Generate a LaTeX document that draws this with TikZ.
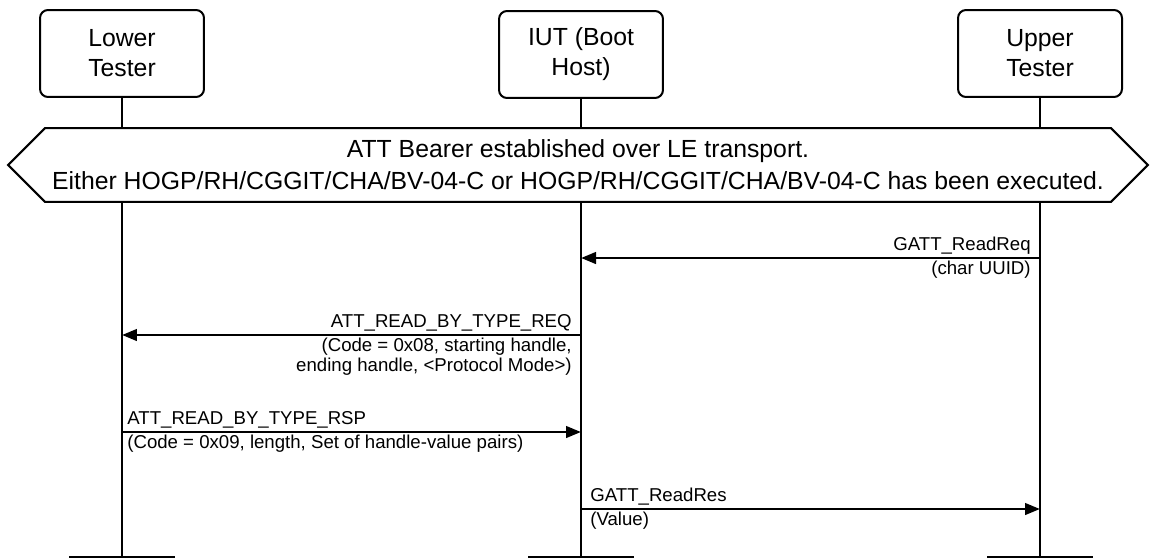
\documentclass[tikz,border=0pt]{standalone}
\usepackage{fontspec}
\setmainfont{Liberation Sans}
\usetikzlibrary{arrows.meta, shapes.symbols, calc}
\newcommand{\bigtext}{\fontsize{14.1}{17}\selectfont}
\newcommand{\smalltext}{\fontsize{10.6}{11.4}\selectfont}
\tikzstyle{actor}    = [rectangle, rounded corners=0.16cm, minimum width=3.28cm, minimum height=1.74cm, align=center, draw=black, line width=0.04cm, font=\bigtext]
\tikzstyle{banner}   = [signal, signal to=west and east, signal pointer angle=90, minimum width=22.8cm, minimum height=1.48cm, align=center, draw=black, line width=0.04cm, font=\bigtext, inner sep=0pt]
\tikzstyle{lifeline} = [line width=0.04cm]
\tikzstyle{msg}      = [line width=0.055cm, -{Triangle[length=0.3cm, width=0.23cm]}]
\tikzstyle{lbl}      = [font=\smalltext, inner xsep=0.18cm, inner ysep=0.06cm]

\begin{document}
\begin{tikzpicture}[x=0.02cm, y=-0.02cm]
    \useasboundingbox (0,0) rectangle (1152,558);

    \node (lower) [actor] at (122,53.5)  {Lower\\Tester};
    \node (iut)   [actor] at (581,54.5)  {IUT (Boot\\Host)};
    \node (upper) [actor] at (1040,53.5) {Upper\\Tester};

    \node (pre) [banner] at (578,165) {ATT Bearer established over LE transport.\\[0.04cm]Either HOGP/RH/CGGIT/CHA/BV-04-C or HOGP/RH/CGGIT/CHA/BV-04-C has been executed.};

    % lifeline ends
    \coordinate (lower-end) at (122,557);
    \coordinate (iut-end)   at (581,557);
    \coordinate (upper-end) at (1040,557);

    \draw [lifeline] (lower) -- (lower |- pre.north);
    \draw [lifeline] (iut)   -- (iut |- pre.north);
    \draw [lifeline] (upper) -- (upper |- pre.north);
    \draw [lifeline] (lower |- pre.south) -- (lower-end);
    \draw [lifeline] (iut |- pre.south)   -- (iut-end);
    \draw [lifeline] (upper |- pre.south) -- (upper-end);

    \draw [lifeline] ($(lower-end)+(-53,0)$) -- ($(lower-end)+(53,0)$);
    \draw [lifeline] ($(iut-end)+(-53,0)$)   -- ($(iut-end)+(53,0)$);
    \draw [lifeline] ($(upper-end)+(-53,0)$) -- ($(upper-end)+(53,0)$);

    % messages
    \coordinate (u1) at (upper |- 0,258);
    \coordinate (i1) at (iut |- 0,258);
    \coordinate (i2) at (iut |- 0,335);
    \coordinate (l2) at (lower |- 0,335);
    \coordinate (l3) at (lower |- 0,432);
    \coordinate (i3) at (iut |- 0,432);
    \coordinate (i4) at (iut |- 0,509);
    \coordinate (u4) at (upper |- 0,509);

    \draw [msg] (u1) -- (i1);
    \node [lbl, above left] at (u1) {GATT\_ReadReq};
    \node [lbl, below left] at (u1) {(char UUID)};

    \draw [msg] (i2) -- (l2);
    \node [lbl, above left] at (i2) {ATT\_READ\_BY\_TYPE\_REQ};
    \node [lbl, below left, align=right] at (i2) {(Code = 0x08, starting handle,\\ending handle, <Protocol Mode>)};

    \draw [msg] (l3) -- (i3);
    \node [lbl, above right, inner xsep=0.1cm] at (l3) {ATT\_READ\_BY\_TYPE\_RSP};
    \node [lbl, below right, inner xsep=0.1cm] at (l3) {(Code = 0x09, length, Set of handle-value pairs)};

    \draw [msg] (i4) -- (u4);
    \node [lbl, above right] at (i4) {GATT\_ReadRes};
    \node [lbl, below right] at (i4) {(Value)};

\end{tikzpicture}
\end{document}
